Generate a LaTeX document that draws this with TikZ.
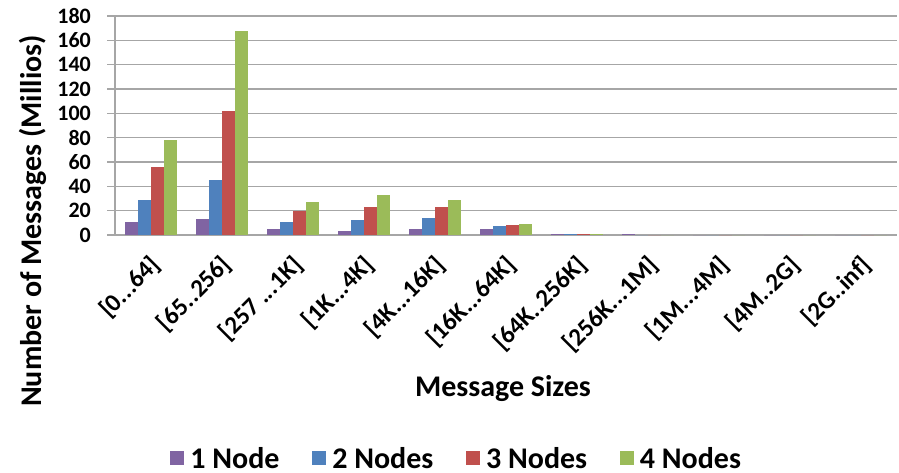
\documentclass[tikz,border=0pt]{standalone}
\usepackage{fontspec}
\setmainfont{Carlito}
\usetikzlibrary{positioning}

\definecolor{onenode}{HTML}{8064A2}
\definecolor{twonodes}{HTML}{4F81BD}
\definecolor{threenodes}{HTML}{C0504D}
\definecolor{fournodes}{HTML}{9BBB59}
\definecolor{gridgray}{HTML}{A6A6A6}
\newcommand{\tdots}{.{}.{}.}

\begin{document}
\begin{tikzpicture}[x=1pt,y=1pt,
    grid line/.style={draw=gridgray,line width=1.4pt},
    tick label/.style={font=\fontsize{22}{22}\selectfont\bfseries,anchor=east,inner sep=0pt},
    cat label/.style={font=\fontsize{25}{25}\selectfont\bfseries,anchor=east,rotate=45,inner sep=0pt},
    axis title/.style={font=\fontsize{30}{30}\selectfont\bfseries,inner sep=0pt},
    legend box/.style={minimum size=14pt,inner sep=0pt},
    legend text/.style={font=\fontsize{30}{30}\selectfont\bfseries,inner sep=0pt}]
\useasboundingbox (0,0) rectangle (899,472);

\foreach \v in {0,20,...,180}{
    \draw[grid line] (107,{237+1.2167*\v}) -- (897,{237+1.2167*\v});
    \node[tick label] (tick\v) at (91,{237+1.2167*\v}) {\v};
}
\draw[grid line] (115,237) -- (115,456);

\foreach \i/\a/\b/\c/\d/\lab in {
    0/11/29/56/78/{[0\tdots64]},
    1/13/45/102/168/{[65..256]},
    2/5/11/20/27/{[257 \tdots1K]},
    3/3.3/12/23/33/{[1K\tdots4K]},
    4/5.3/14/23/29/{[4K\tdots16K]},
    5/5.3/7.2/8/9.4/{[16K\tdots64K]},
    6/1.1/1.1/1.1/1.1/{[64K..256K]},
    7/1.1/0/0/0/{[256K\tdots1M]},
    8/0/0/0/0/{[1M\tdots4M]},
    9/0/0/0/0/{[4M..2G]},
    10/0/0/0/0/{[2G..inf]}}{
    \pgfmathsetmacro{\x}{115+(\i+0.5)*71.09}
    \fill[onenode] (\x-26,237) rectangle (\x-13,{237+1.2167*\a});
    \fill[twonodes] (\x-13,237) rectangle (\x,{237+1.2167*\b});
    \fill[threenodes] (\x,237) rectangle (\x+13,{237+1.2167*\c});
    \fill[fournodes] (\x+13,237) rectangle (\x+26,{237+1.2167*\d});
    \node[cat label] (cat\i) at (\x+6,211) {\lab};
}

\node[axis title,rotate=90] (ytitle) at (33,251) {Number of Messages (Millios)};
\node[axis title,anchor=base] (xtitle) at (503,76) {Message Sizes};

\node[legend box,fill=onenode] (key1) at (177,14) {};
\node[legend text,right=6pt of key1] (lab1) {1 Node};
\node[legend box,fill=twonodes,right=32pt of lab1] (key2) {};
\node[legend text,right=6pt of key2] (lab2) {2 Nodes};
\node[legend box,fill=threenodes,right=32pt of lab2] (key3) {};
\node[legend text,right=6pt of key3] (lab3) {3 Nodes};
\node[legend box,fill=fournodes,right=32pt of lab3] (key4) {};
\node[legend text,right=6pt of key4] (lab4) {4 Nodes};
\end{tikzpicture}
\end{document}
